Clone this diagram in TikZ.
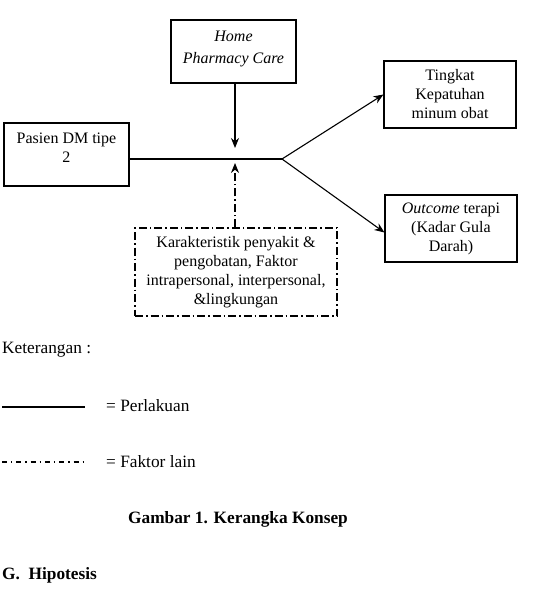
\documentclass[tikz,border=0pt]{standalone}
\usepackage{fontspec}
\setmainfont{Liberation Serif}
\usetikzlibrary{arrows.meta}

\begin{document}
\begin{tikzpicture}[x=1pt, y=-1pt,
		font=\fontsize{16}{19}\selectfont,
		box/.style={draw, line width=1.1pt, align=center, inner sep=0pt},
		faktorbox/.style={box, dash pattern=on 8pt off 3pt on 1.5pt off 3pt},
		lbl/.style={inner sep=0pt, anchor=west, font=\fontsize{17.3}{20}\selectfont},
		tip/.style={-{Stealth[length=10pt, width=8pt]}, line width=1.1pt}]
			\useasboundingbox (0, 0) rectangle (537, 589);

			\node[box, minimum width=125pt, minimum height=63pt] (home) at (233.5, 51.5) {\textit{Home}\\[3pt]\textit{Pharmacy Care}\\[-10pt]};
			\node[box, minimum width=125pt, minimum height=63pt] (pasien) at (66.5, 154.5) {Pasien DM tipe\\2\\[-5pt]};
			\node[box, minimum width=132pt, minimum height=67pt] (tingkat) at (450, 94.5) {Tingkat\\Kepatuhan\\minum obat};
			\node[box, minimum width=132pt, minimum height=67pt] (outcome) at (451, 228.5) {\textit{Outcome} terapi\\(Kadar Gula\\Darah)};
			\node[faktorbox, minimum width=202pt, minimum height=88pt] (faktor) at (236, 272) {Karakteristik penyakit \&\\pengobatan, Faktor\\intrapersonal, interpersonal,\\\&lingkungan};

			\coordinate (br) at (282, 159);
			\coordinate (hpc) at (235, 148);
			\coordinate (fl) at (235, 163);

			\draw[line width=1.1pt] (pasien.east |- br) -- (br);
			\draw[tip] (br) -- (tingkat.west);
			\draw[tip] (br) -- ([yshift=-4pt]outcome.west);
			\draw[tip] (hpc |- home.south) -- (hpc);
			\draw[tip, dash pattern=on 8pt off 3pt on 1.5pt off 3pt] (fl |- faktor.north) -- (fl);

			% keterangan
			\node[lbl] (ket) at (2, 350) {Keterangan :};
			\coordinate (p1) at (2, 407);
			\coordinate (p2) at (85, 407);
			\coordinate (f1) at (2, 462);
			\coordinate (f2) at (85, 462);
			\draw[line width=1.5pt] (p1) -- (p2);
			\draw[line width=1.3pt, dash pattern=on 5pt off 4pt on 1.3pt off 4pt] (f1) -- (f2);
			\node[lbl] (perlakuan) at (106, 406) {= Perlakuan};
			\node[lbl] (lain) at (106, 462) {= Faktor lain};

			\node[lbl, font=\fontsize{17.3}{20}\selectfont\bfseries] (gambar) at (128, 519) {Gambar 1. Kerangka Konsep};
			\node[lbl, font=\fontsize{17.3}{20}\selectfont\bfseries] (hipotesis) at (2, 575) {G.\ \ Hipotesis};
		\end{tikzpicture}
\end{document}
